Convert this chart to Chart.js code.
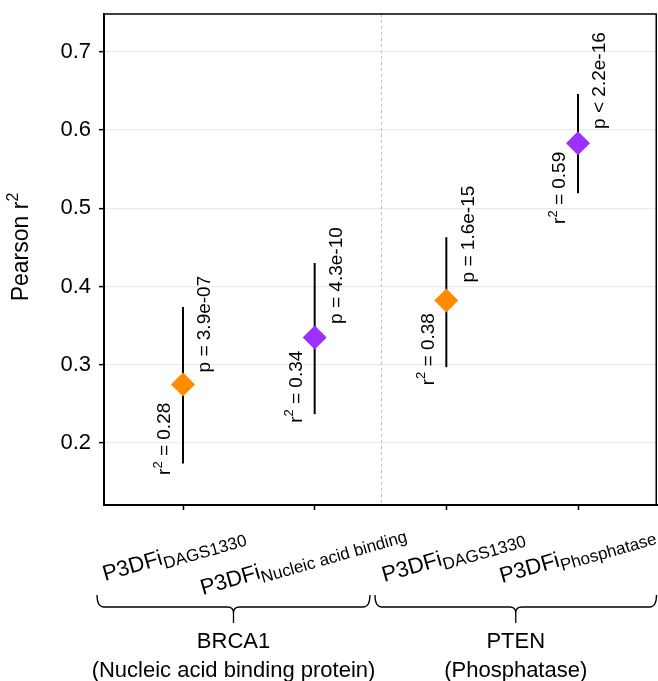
<!DOCTYPE html>
<html>
<head>
<meta charset="utf-8">
<script src="https://cdn.jsdelivr.net/npm/chart.js@4"></script>
<style>
  html, body { margin: 0; padding: 0; background: #fff; }
  canvas { display: block; }
</style>
</head>
<body>
<canvas id="cv" width="658" height="681"></canvas>
<script>
/* ── Pearson r² per predictor, BRCA1 vs PTEN ── */

const labelMain = ['P3DFi', 'P3DFi', 'P3DFi', 'P3DFi'];
const labelSub = ['DAGS1330', 'Nucleic acid binding', 'DAGS1330', 'Phosphatase'];
const groups = ['BRCA1', 'PTEN'];
const groupSub = ['(Nucleic acid binding protein)', '(Phosphatase)'];

const r2 = [0.275, 0.335, 0.382, 0.583];
const lo = [0.174, 0.237, 0.297, 0.519];
const hi = [0.374, 0.430, 0.463, 0.646];
const rLabels = ['0.28', '0.34', '0.38', '0.59'];
const pLabels = ['p = 3.9e-07', 'p = 4.3e-10', 'p = 1.6e-15', 'p < 2.2e-16'];
const rLabelY = [0.2055, 0.272, 0.320, 0.526];
const pLabelY = [0.352, 0.414, 0.467, 0.663];
const yTicks = [0.2, 0.3, 0.4, 0.5, 0.6, 0.7];

const ORANGE = '#ff8c00', PURPLE = '#9b30ff';
const cols = [ORANGE, PURPLE, ORANGE, PURPLE];
const FONT = '"Liberation Sans", Arial, sans-serif';

function richWidth(ctx, parts) {
  let w = 0;
  parts.forEach(p => { ctx.font = p.size + 'px ' + FONT; w += ctx.measureText(p.t).width; });
  return w;
}
function drawRich(ctx, parts, x, y) {
  let cx = x;
  parts.forEach(p => {
    ctx.font = p.size + 'px ' + FONT;
    ctx.fillText(p.t, cx, y + (p.dy || 0));
    cx += ctx.measureText(p.t).width;
  });
}

// braces: [from, to] in x data units, labels drawn under them
const braceSpan = [[0.347, 2.42], [2.458, 4.6]];
// x label start offsets (px from tick) and baselines
const xlOff = [-78, -112, -62, -76];
const xlBase = [581, 595, 582, 583];

const decor = {
  id: 'decor',
  beforeDatasetsDraw(chart) {
    const { ctx, chartArea: a, scales: { x, y } } = chart;
    ctx.save();
    // dashed divider
    ctx.beginPath();
    ctx.setLineDash([3, 3]);
    ctx.strokeStyle = '#bdbdbd'; ctx.lineWidth = 1;
    const dx = Math.round(x.getPixelForValue(2.5)) + 0.5;
    ctx.moveTo(dx, a.top); ctx.lineTo(dx, a.bottom); ctx.stroke();
    ctx.setLineDash([]);
    // error bars
    ctx.strokeStyle = '#000'; ctx.lineWidth = 2;
    r2.forEach((v, i) => {
      const px = x.getPixelForValue(i + 1);
      ctx.beginPath();
      ctx.moveTo(px, y.getPixelForValue(lo[i]));
      ctx.lineTo(px, y.getPixelForValue(hi[i]));
      ctx.stroke();
    });
    ctx.restore();
  },
  afterDraw(chart) {
    const { ctx, chartArea: a, scales: { x, y } } = chart;
    ctx.save();
    // box
    ctx.strokeStyle = '#000'; ctx.lineWidth = 1.5;
    ctx.beginPath();
    ctx.moveTo(a.left, a.top); ctx.lineTo(a.right - 0.75, a.top); ctx.lineTo(a.right - 0.75, a.bottom);
    ctx.stroke();

    ctx.fillStyle = '#000';
    // r² / p annotations, rotated
    r2.forEach((v, i) => {
      const px = x.getPixelForValue(i + 1);
      const rp = [{ t: 'r', size: 19 }, { t: '2', size: 13, dy: -7 }, { t: ' = ' + rLabels[i], size: 19 }];
      const pp = [{ t: pLabels[i], size: 19 }];
      [[rp, px - 18, rLabelY[i]], [pp, px + 22, pLabelY[i]]].forEach(([parts, tx, ty]) => {
        ctx.save();
        ctx.translate(tx, y.getPixelForValue(ty));
        ctx.rotate(-Math.PI / 2);
        ctx.textBaseline = 'middle'; ctx.textAlign = 'left';
        drawRich(ctx, parts, -richWidth(ctx, parts) / 2, 0);
        ctx.restore();
      });
    });

    // y title
    const tp = [{ t: 'Pearson r', size: 23 }, { t: '2', size: 16, dy: -8 }];
    ctx.save();
    ctx.translate(22, 247); ctx.rotate(-Math.PI / 2);
    ctx.textBaseline = 'middle'; ctx.textAlign = 'left';
    drawRich(ctx, tp, -richWidth(ctx, tp) / 2, 0);
    ctx.restore();

    // slanted category labels
    labelMain.forEach((m, i) => {
      const px = x.getPixelForValue(i + 1);
      ctx.save();
      ctx.translate(px + xlOff[i], xlBase[i]);
      ctx.rotate(-16 * Math.PI / 180);
      ctx.textBaseline = 'alphabetic'; ctx.textAlign = 'left';
      drawRich(ctx, [{ t: m, size: 22 }, { t: labelSub[i], size: 17, dy: 5 }], 0, 0);
      ctx.restore();
    });

    // braces + group names
    ctx.strokeStyle = '#000'; ctx.lineWidth = 1.3;
    groups.forEach((g, i) => {
      const x0 = x.getPixelForValue(braceSpan[i][0]);
      const x1 = Math.min(x.getPixelForValue(braceSpan[i][1]), 656.5);
      const xm = (x0 + x1) / 2;
      const t = 595, h = 607, s = 623;
      ctx.beginPath();
      ctx.moveTo(x0, t);
      ctx.quadraticCurveTo(x0, h, x0 + 7, h);
      ctx.lineTo(xm - 6, h);
      ctx.quadraticCurveTo(xm, h, xm, h + 6);
      ctx.lineTo(xm, s);
      ctx.moveTo(x1, t);
      ctx.quadraticCurveTo(x1, h, x1 - 7, h);
      ctx.lineTo(xm + 6, h);
      ctx.quadraticCurveTo(xm, h, xm, h + 6);
      ctx.stroke();
      ctx.font = '22px ' + FONT;
      ctx.textAlign = 'center'; ctx.textBaseline = 'alphabetic';
      ctx.fillText(g, xm, 648);
      ctx.fillText(groupSub[i], xm, 677);
    });
    ctx.restore();
  }
};

new Chart(document.getElementById('cv'), {
  type: 'scatter',
  data: {
    datasets: [{
      data: r2.map((v, i) => ({ x: i + 1, y: v })),
      pointStyle: 'rectRot',
      radius: 12,
      hoverRadius: 12,
      backgroundColor: cols,
      borderWidth: 0
    }]
  },
  options: {
    responsive: false,
    animation: false,
    events: [],
    layout: { autoPadding: false, padding: { top: 14, right: 1, left: 0, bottom: 0 } },
    plugins: { legend: { display: false }, tooltip: { enabled: false } },
    scales: {
      x: {
        type: 'linear', min: 0.4, max: 4.6,
        afterBuildTicks: s => { s.ticks = labelMain.map((_, i) => ({ value: i + 1 })); },
        afterFit: s => { s.height = 176; s.paddingLeft = 0; s.paddingRight = 0; },
        grid: { drawOnChartArea: false, tickColor: '#000', tickLength: 5, tickWidth: 1.5 },
        border: { color: '#000', width: 2 },
        ticks: { callback: () => '', font: { size: 1 } }
      },
      y: {
        type: 'linear', min: 0.121, max: 0.748,
        afterBuildTicks: s => { s.ticks = yTicks.map(v => ({ value: v })); },
        afterFit: s => { s.width = 104; s.paddingTop = 0; s.paddingBottom = 0; },
        grid: { color: '#ebebeb', lineWidth: 1.3, tickColor: '#000', tickLength: 5, tickWidth: 1.5 },
        border: { color: '#000', width: 2 },
        ticks: {
          color: '#000', padding: 8,
          font: { family: FONT, size: 22 },
          callback: v => v.toFixed(1)
        }
      }
    }
  },
  plugins: [decor]
});
</script>
</body>
</html>
